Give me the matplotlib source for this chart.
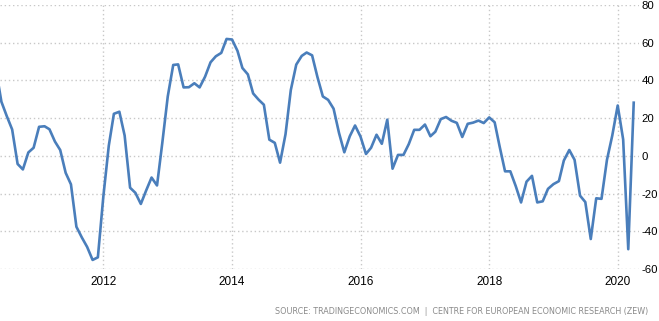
import numpy as np
import pandas as pd
import matplotlib
matplotlib.use("Agg")
import matplotlib.pyplot as plt
import matplotlib.dates as mdates

# ZEW economic sentiment, monthly, May 2010 - Apr 2020
start = "2010-05-01"
values = [
    45.8, 28.7, 21.2, 14.0, -4.3, -7.2, 1.8, 4.3,
    15.4, 15.7, 14.1, 7.6, 3.1, -9.0, -15.1, -37.6, -43.3, -48.3, -55.2, -53.8,
    -21.6, 5.4, 22.3, 23.4, 10.8, -16.9, -19.6, -25.5, -18.2, -11.5, -15.7, 6.9,
    31.5, 48.2, 48.5, 36.3, 36.4, 38.5, 36.3, 42.0, 49.6, 52.8, 54.6, 62.0,
    61.7, 55.7, 46.6, 43.2, 33.1, 29.8, 27.1, 8.6, 6.9, -3.6, 11.5, 34.9,
    48.4, 53.0, 54.8, 53.3, 41.9, 31.5, 29.7, 25.0, 12.1, 1.9, 10.4, 16.1,
    10.2, 1.0, 4.3, 11.2, 6.4, 19.2, -6.8, 0.5, 0.5, 6.2, 13.8, 13.8,
    16.6, 10.4, 12.8, 19.5, 20.6, 18.6, 17.5, 10.0, 17.0, 17.6, 18.7, 17.4,
    20.4, 17.8, 5.1, -8.2, -8.2, -16.1, -24.7, -13.7, -10.6, -24.7, -24.1, -17.5,
    -15.0, -13.4, -2.5, 3.1, -2.1, -21.1, -24.5, -44.1, -22.5, -22.8, -2.1, 10.7,
    26.7, 8.7, -49.5, 28.2,
]
dates = pd.date_range(start, periods=len(values), freq="MS")
year_ticks = [2012, 2014, 2016, 2018, 2020]
y_ticks = [-60, -40, -20, 0, 20, 40, 60, 80]

plt.rcParams["axes.unicode_minus"] = False

fig = plt.figure(figsize=(6.59, 3.21), dpi=100)
ax = fig.add_axes([0, 52 / 321, 639 / 659, 264 / 321])

ax.plot(dates, values, color="#4a7ebb", linewidth=1.9, solid_joinstyle="round")

ax.set_xlim(pd.Timestamp("2010-05-24"), pd.Timestamp("2020-05-01"))
ax.set_ylim(-60, 80)
ax.set_xticks([pd.Timestamp(f"{y}-01-01") for y in year_ticks])
ax.xaxis.set_major_formatter(mdates.DateFormatter("%Y"))
ax.set_yticks(y_ticks)

ax.yaxis.tick_right()
ax.tick_params(axis="both", length=0, labelcolor="black")
ax.tick_params(axis="y", pad=2, labelsize=8.2)
ax.tick_params(axis="x", pad=5, labelsize=8.5)
for lab in ax.get_xticklabels() + ax.get_yticklabels():
    lab.set_fontfamily("Liberation Sans")

ax.grid(True, color="#c8c8c8", linestyle=(0, (1, 2)), linewidth=1)
for s in ax.spines.values():
    s.set_visible(False)

fig.text(648 / 659, 10 / 321,
         "SOURCE: TRADINGECONOMICS.COM  |  CENTRE FOR EUROPEAN ECONOMIC RESEARCH (ZEW)",
         ha="right", va="center", fontsize=5.8, color="#8a8a8a", family="DejaVu Sans")

fig.savefig("out.png", dpi=100)
